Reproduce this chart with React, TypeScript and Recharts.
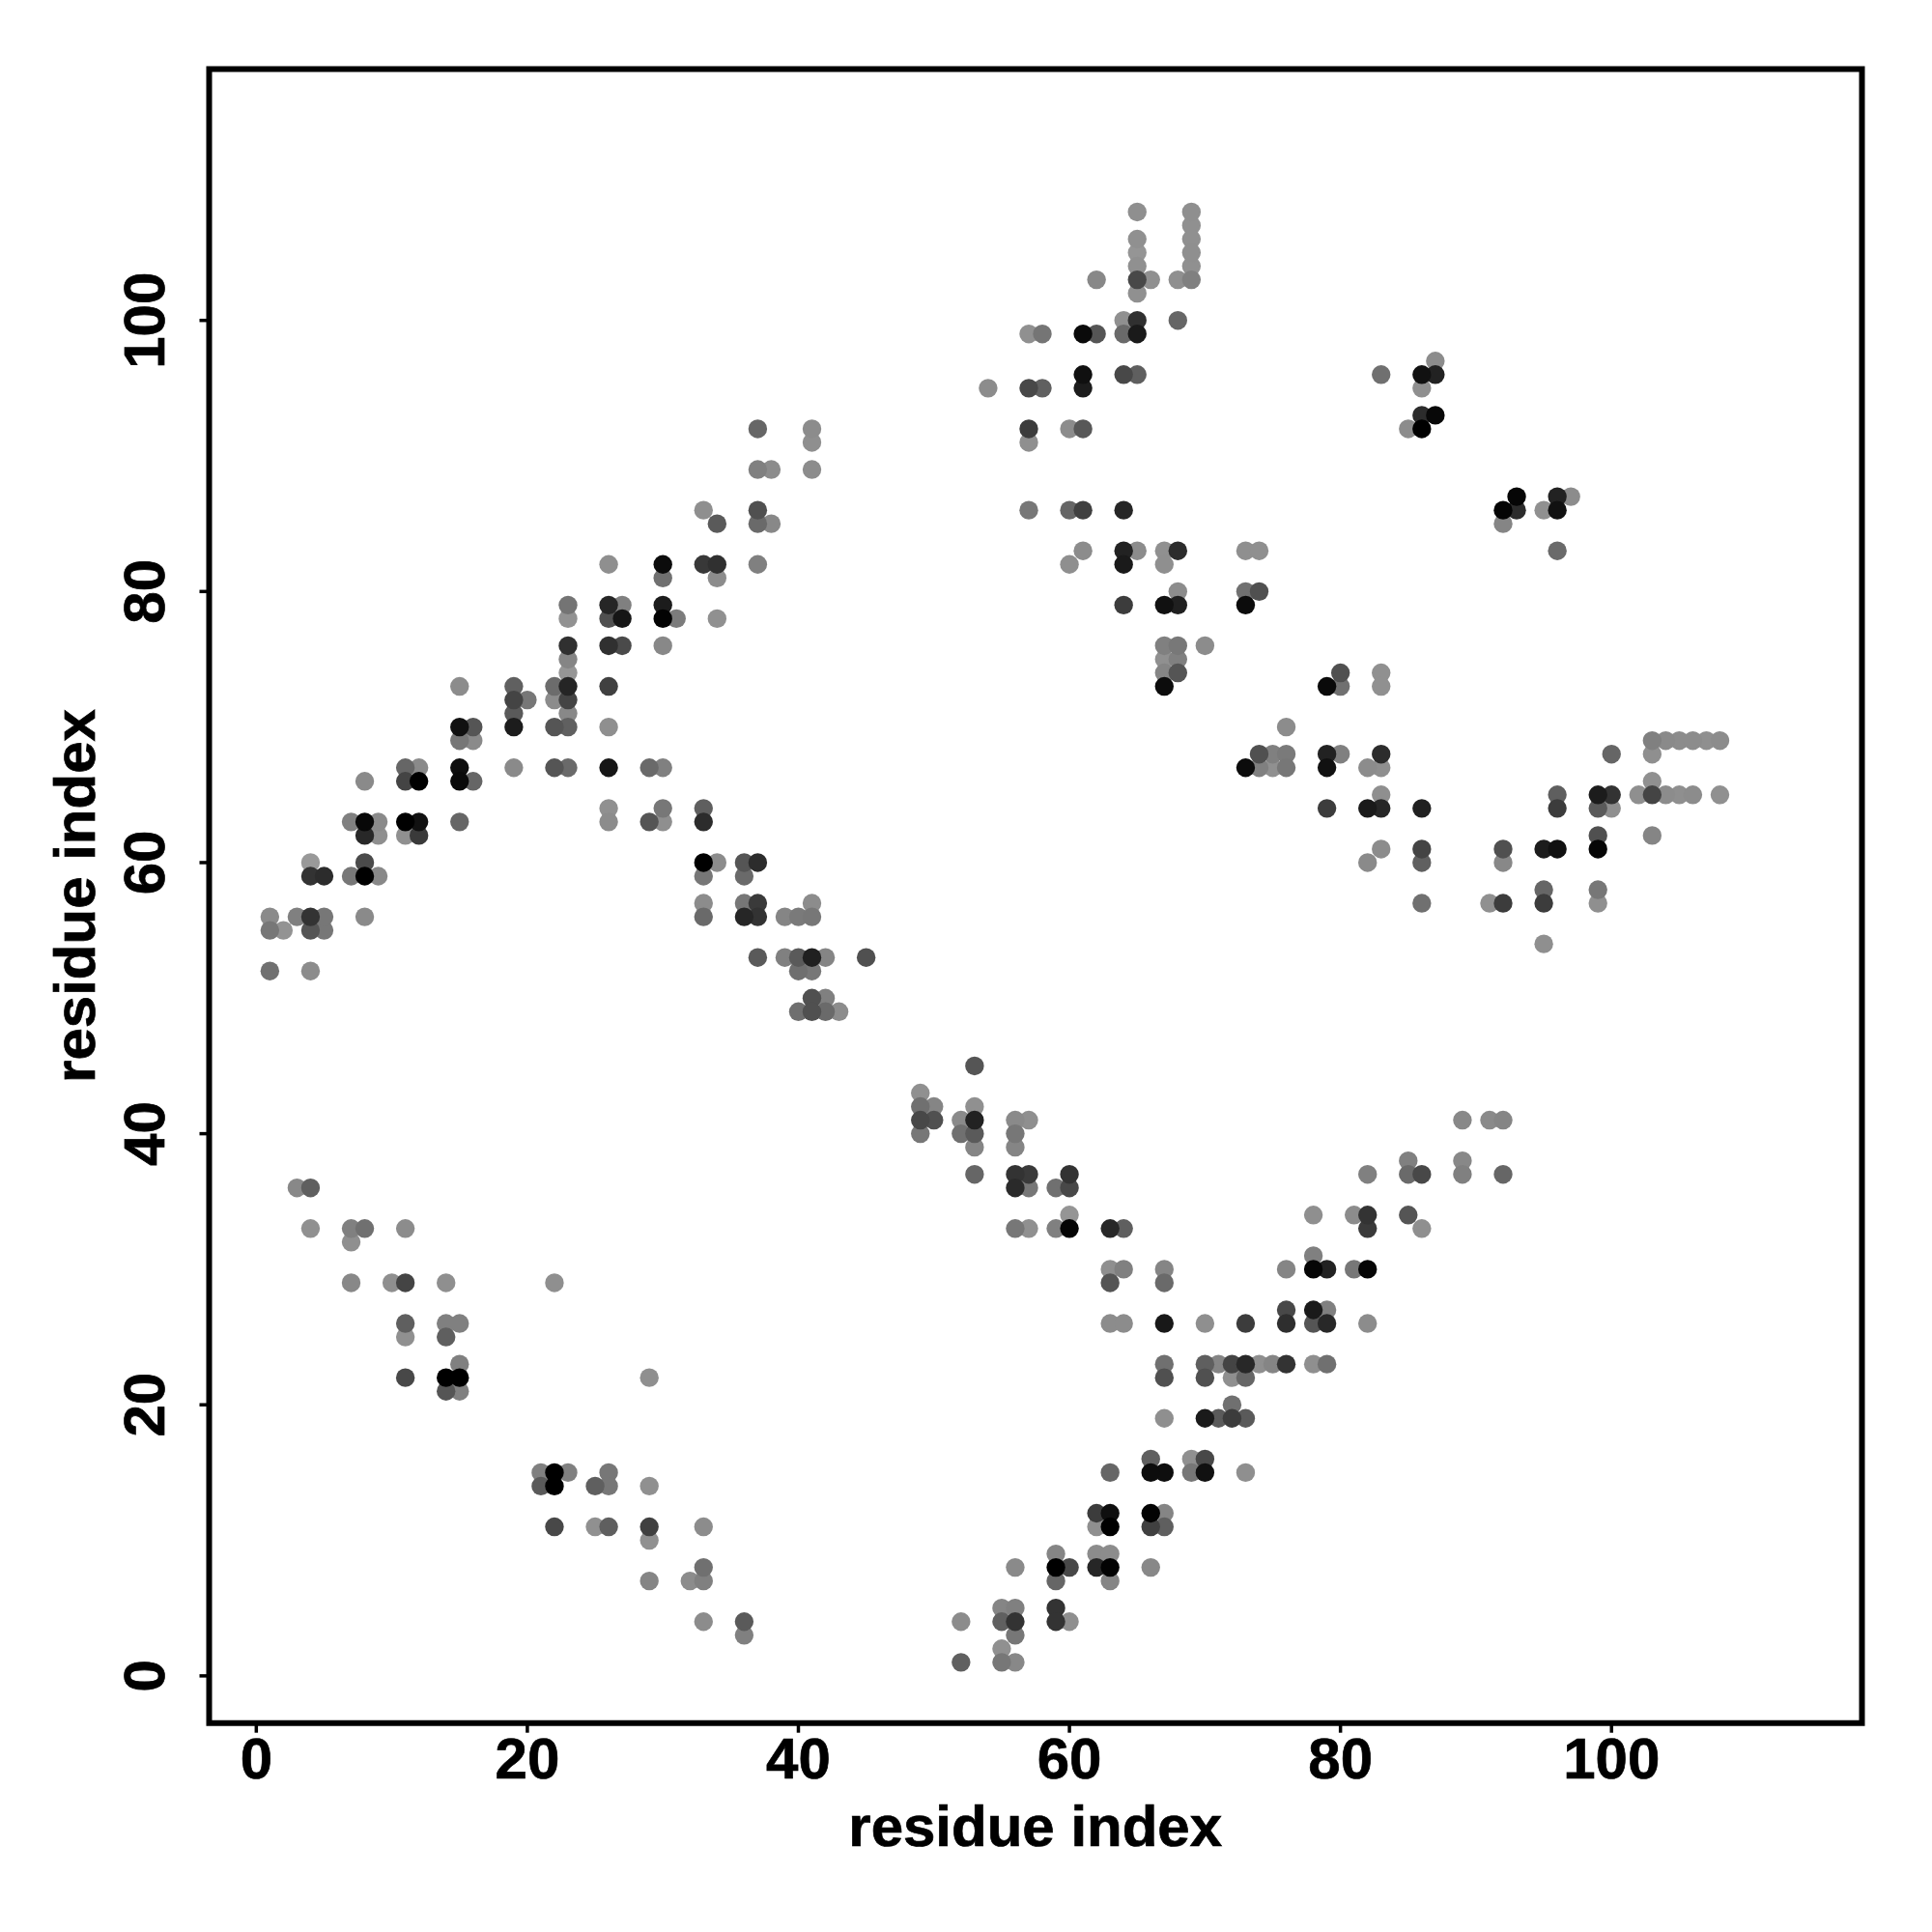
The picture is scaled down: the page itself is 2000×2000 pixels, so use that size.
import React from 'react';
import { ScatterChart, Scatter, XAxis, YAxis, ReferenceArea, Label } from 'recharts';

// Every contact: [residue x, residue y, grey level]
type Contact = [number, number, number];

const helixLeftLow: Contact[] = [
  [1,52,0x70],[4,52,0x8c],[1,55,0x77],[2,55,0x93],[4,55,0x55],[5,55,0x77],[1,56,0x8a],[3,56,0x80],[4,56,0x33],[5,56,0x77],
  [4,59,0x33],[5,59,0x2c],[7,59,0x77],[8,59,0x00],[9,59,0x88],[4,60,0x99],[8,60,0x4a],[8,56,0x8a],
  [8,62,0x28],[9,62,0x8f],[11,62,0x90],[12,62,0x3a],[7,63,0x80],[8,63,0x08],[9,63,0x8a],[11,63,0x00],[12,63,0x11],[15,63,0x66],
  [8,66,0x8a],[11,66,0x44],[12,66,0x00],[15,66,0x0a],[16,66,0x66],[11,67,0x66],[12,67,0x8a],[15,67,0x0e],[19,67,0x8a],[22,67,0x55],[23,67,0x6a],[26,67,0x16],[29,67,0x6a],[30,67,0x80],
];
const helixLeftHigh: Contact[] = [
  [15,69,0x77],[16,69,0x8a],[15,70,0x11],[16,70,0x55],[19,70,0x1c],[22,70,0x55],[23,70,0x60],[26,70,0x8f],[19,71,0x5a],[23,71,0x88],
  [19,72,0x44],[20,72,0x77],[22,72,0x8c],[23,72,0x44],[15,73,0x8c],[19,73,0x60],[22,73,0x6c],[23,73,0x25],[26,73,0x40],[23,74,0x96],[23,75,0x85],
  [23,76,0x30],[26,76,0x30],[27,76,0x4a],[30,76,0x88],[23,78,0x92],[26,78,0x50],[27,78,0x16],[30,78,0x03],[31,78,0x7c],[23,79,0x74],[26,79,0x26],[27,79,0x80],[30,79,0x1c],
  [30,81,0x70],[26,82,0x8f],[30,82,0x0c],[33,82,0x38],[34,82,0x30],[37,82,0x80],[34,81,0x8c],[34,78,0x90],
  [33,86,0x8f],[37,86,0x50],[34,85,0x5a],[37,85,0x6a],[38,85,0x88],[37,89,0x80],[38,89,0x8c],[41,89,0x8c],[37,92,0x66],[41,92,0x8c],[41,91,0x8f],
];
const strandLeftMid: Contact[] = [
  [26,64,0x90],[30,64,0x77],[33,64,0x5f],[26,63,0x8c],[29,63,0x55],[30,63,0x8f],[33,63,0x2c],
  [33,60,0x00],[34,60,0x8c],[36,60,0x55],[37,60,0x2c],[33,59,0x77],[36,59,0x6a],
  [33,57,0x8c],[36,57,0x77],[37,57,0x3a],[41,57,0x8c],[33,56,0x6a],[36,56,0x26],[37,56,0x33],[39,56,0x85],[40,56,0x7a],[41,56,0x77],
  [37,53,0x5a],[39,53,0x80],[40,53,0x5a],[41,53,0x20],[42,53,0x85],[45,53,0x50],[40,52,0x6f],[41,52,0x77],
  [41,50,0x50],[42,50,0x80],[40,49,0x6f],[41,49,0x50],[42,49,0x6a],[43,49,0x8c],
];
const sheetTop: Contact[] = [
  [65,108,0x8f],[69,108,0x8f],[69,107,0x90],[65,106,0x90],[69,106,0x90],[65,105,0x95],[69,105,0x8f],[65,104,0x90],[69,104,0x90],
  [62,103,0x88],[65,103,0x48],[66,103,0x90],[68,103,0x8f],[69,103,0x80],[65,102,0x90],[64,100,0x90],[65,100,0x30],[68,100,0x66],
  [57,99,0x90],[58,99,0x75],[61,99,0x0a],[62,99,0x55],[64,99,0x6a],[65,99,0x1a],[61,96,0x10],[64,96,0x48],[65,96,0x5f],
  [54,95,0x8c],[57,95,0x48],[58,95,0x60],[61,95,0x1c],[57,92,0x3c],[60,92,0x8c],[61,92,0x58],[57,91,0x8f],
  [57,86,0x77],[60,86,0x66],[61,86,0x40],[64,86,0x26],[61,83,0x8c],[64,83,0x22],[65,83,0x8c],[67,83,0x90],[68,83,0x2c],
  [60,82,0x8f],[64,82,0x1a],[67,82,0x8f],[68,80,0x8c],[64,79,0x3c],[67,79,0x11],[68,79,0x20],
  [67,76,0x80],[68,76,0x78],[70,76,0x8c],[67,75,0x90],[68,75,0x80],[67,74,0x85],[68,74,0x55],[67,73,0x0c],
];
const clusterRight: Contact[] = [
  [87,97,0x8c],[83,96,0x70],[86,96,0x11],[87,96,0x22],[86,95,0x8f],[86,93,0x2c],[87,93,0x08],[85,92,0x8c],[86,92,0x00],
  [93,87,0x06],[96,87,0x22],[97,87,0x8c],[92,86,0x04],[93,86,0x2c],[95,86,0x90],[96,86,0x11],[92,85,0x85],[96,83,0x6a],
  [73,83,0x8f],[74,83,0x8f],[73,80,0x70],[74,80,0x50],[73,79,0x0c],
  [80,74,0x50],[83,74,0x90],[79,73,0x0a],[80,73,0x70],[83,73,0x90],[76,70,0x8c],
];
const bandRight: Contact[] = [
  [103,69,0x80],[104,69,0x8a],[105,69,0x8c],[106,69,0x8c],[107,69,0x8f],[108,69,0x8c],
  [74,68,0x50],[75,68,0x80],[76,68,0x7a],[79,68,0x22],[80,68,0x80],[83,68,0x2c],[100,68,0x66],[103,68,0x8f],
  [73,67,0x0c],[74,67,0x80],[75,67,0x90],[76,67,0x77],[79,67,0x11],[82,67,0x8c],[83,67,0x8f],[103,66,0x90],
  [83,65,0x8f],[96,65,0x5f],[99,65,0x1c],[100,65,0x33],[102,65,0x8f],[103,65,0x44],[104,65,0x8c],[105,65,0x8f],[106,65,0x8c],[108,65,0x90],
  [79,64,0x3c],[82,64,0x1a],[83,64,0x26],[86,64,0x20],[96,64,0x3c],[99,64,0x5a],[100,64,0x8f],[99,62,0x50],[103,62,0x85],
  [83,61,0x8c],[86,61,0x44],[92,61,0x50],[95,61,0x1c],[96,61,0x11],[99,61,0x06],[82,60,0x8a],[86,60,0x60],[92,60,0x88],
  [95,58,0x66],[99,58,0x77],[86,57,0x70],[91,57,0x90],[92,57,0x3c],[95,57,0x3c],[99,57,0x8f],[95,54,0x8f],
];
const centerDescent: Contact[] = [
  [53,45,0x55],[49,43,0x90],[49,42,0x70],[50,42,0x85],[53,42,0x90],[49,41,0x48],[50,41,0x50],[52,41,0x8a],[53,41,0x22],[56,41,0x8a],[57,41,0x8f],
  [49,40,0x77],[52,40,0x70],[53,40,0x5a],[56,40,0x77],[53,39,0x85],[56,39,0x85],[53,37,0x66],[56,37,0x33],[57,37,0x3a],[60,37,0x33],
  [56,36,0x2a],[57,36,0x77],[59,36,0x70],[60,36,0x48],[60,34,0x95],[56,33,0x77],[57,33,0x90],[59,33,0x80],[60,33,0x04],[63,33,0x28],[64,33,0x5f],
  [63,30,0x8f],[64,30,0x80],[67,30,0x85],[63,29,0x55],[67,29,0x6a],[63,26,0x8c],[64,26,0x8c],[67,26,0x18],[70,26,0x8f],[73,26,0x3c],
  [67,23,0x70],[70,23,0x5f],[71,23,0x85],[72,23,0x44],[73,23,0x28],[74,23,0x8f],[75,23,0x85],[67,22,0x50],[70,22,0x50],[72,22,0x8f],[73,22,0x66],
  [72,20,0x70],[67,19,0x8f],[70,19,0x1a],[71,19,0x5a],[72,19,0x3c],[73,19,0x5a],
];
const bottomRise: Contact[] = [
  [66,16,0x5f],[69,16,0x90],[70,16,0x48],[63,15,0x66],[66,15,0x0c],[67,15,0x0e],[69,15,0x77],[70,15,0x11],[73,15,0x8f],
  [62,12,0x3c],[63,12,0x0f],[66,12,0x03],[67,12,0x85],[62,11,0x8f],[63,11,0x00],[66,11,0x40],[67,11,0x5f],
  [59,9,0x85],[62,9,0x8c],[63,9,0x8c],[56,8,0x8a],[59,8,0x00],[60,8,0x48],[62,8,0x26],[63,8,0x03],[66,8,0x88],[59,7,0x66],[63,7,0x85],
  [55,5,0x85],[56,5,0x80],[59,5,0x33],[52,4,0x8c],[55,4,0x60],[56,4,0x33],[59,4,0x33],[60,4,0x8f],[56,3,0x77],[55,2,0x90],[52,1,0x60],[55,1,0x77],[56,1,0x88],
];
const upperRise: Contact[] = [
  [89,41,0x88],[91,41,0x8a],[92,41,0x85],[85,38,0x80],[89,38,0x88],[82,37,0x80],[85,37,0x6a],[86,37,0x48],[89,37,0x80],[92,37,0x66],
  [78,34,0x8f],[81,34,0x8c],[82,34,0x33],[85,34,0x55],[82,33,0x3a],[86,33,0x8f],[78,31,0x80],
  [76,30,0x85],[78,30,0x06],[79,30,0x22],[81,30,0x77],[82,30,0x06],[76,27,0x48],[78,27,0x1a],[79,27,0x80],
  [76,26,0x2e],[78,26,0x55],[79,26,0x28],[82,26,0x8c],[76,23,0x33],[78,23,0x8f],[79,23,0x70],
];
const lowerLeft: Contact[] = [
  [3,36,0x88],[4,36,0x5f],[4,33,0x90],[7,33,0x80],[8,33,0x70],[11,33,0x8c],[7,32,0x8f],
  [7,29,0x88],[10,29,0x8f],[11,29,0x44],[14,29,0x8f],[22,29,0x8f],[11,26,0x5f],[14,26,0x80],[15,26,0x80],[11,25,0x90],[14,25,0x5f],
  [15,23,0x80],[11,22,0x48],[14,22,0x00],[15,22,0x00],[29,22,0x8f],[14,21,0x55],[15,21,0x80],
  [21,15,0x80],[22,15,0x00],[23,15,0x80],[26,15,0x77],[21,14,0x5a],[22,14,0x00],[25,14,0x5f],[26,14,0x77],[29,14,0x90],
  [22,11,0x48],[25,11,0x90],[26,11,0x5f],[29,11,0x40],[33,11,0x8c],[29,10,0x90],[33,8,0x70],[29,7,0x85],[32,7,0x8c],[33,7,0x80],
  [33,4,0x8c],[36,4,0x5a],[36,3,0x80],
];

const tickValues = [0, 20, 40, 60, 80, 100];
const axisTitle = 'residue index';

const rows = [
  ...helixLeftLow, ...helixLeftHigh, ...strandLeftMid, ...sheetTop, ...clusterRight,
  ...bandRight, ...centerDescent, ...bottomRise, ...upperRise, ...lowerLeft,
]
  .map(([x, y, shade]) => ({ x, y, fill: `rgb(${shade},${shade},${shade})`, shade }))
  .sort((a, b) => b.shade - a.shade);

const FONT = '"Liberation Sans", Arial, sans-serif';
const LOW = -3.48;
const HIGH_X = 118.48;
const HIGH_Y = 118.55;
const TEXT_SIZE = 60;
const textProps = {
  fontSize: TEXT_SIZE,
  fontWeight: 'bold',
  fontFamily: FONT,
  fill: '#000',
  stroke: '#000',
  strokeWidth: 0.7,
  textAnchor: 'middle',
} as const;

const dot = (p: any) => <circle cx={p.cx} cy={p.cy} r={9.7} fill={p.payload.fill} />;

const xTick = (p: any) => (
  <text x={p.x} y={1841} {...textProps}>
    {p.payload.value}
  </text>
);
const yTick = (p: any) => (
  <text x={170} y={p.y} transform={`rotate(-90 170 ${p.y})`} {...textProps}>
    {p.payload.value}
  </text>
);

export default function App() {
  return (
    <div style={{ position: 'absolute', left: 0, top: 0, width: 2000, height: 2000, background: '#fff' }}>
      <ScatterChart
        width={2000}
        height={2000}
        margin={{ top: 71.4, right: 72.5, left: 16.5, bottom: 16.3 }}
      >
        <XAxis
          type="number"
          dataKey="x"
          domain={[LOW, HIGH_X]}
          ticks={tickValues}
          allowDataOverflow
          height={200}
          axisLine={false}
          tickSize={10}
          tickLine={{ stroke: '#000', strokeWidth: 3.5 }}
          tick={xTick}
          interval={0}
        >
          <Label
            content={() => (
              <text x={1071.7} y={1911} {...textProps}>
                {axisTitle}
              </text>
            )}
          />
        </XAxis>
        <YAxis
          type="number"
          dataKey="y"
          domain={[LOW, HIGH_Y]}
          ticks={tickValues}
          allowDataOverflow
          width={200}
          axisLine={false}
          tickSize={10}
          tickLine={{ stroke: '#000', strokeWidth: 3.5 }}
          tick={yTick}
          interval={0}
        >
          <Label
            content={() => (
              <text x={98} y={927.5} transform="rotate(-90 98 927.5)" {...textProps}>
                {axisTitle}
              </text>
            )}
          />
        </YAxis>
        <Scatter data={rows} shape={dot} isAnimationActive={false} />
        <ReferenceArea x1={LOW} x2={HIGH_X} y1={LOW} y2={HIGH_Y} fill="none" stroke="#000" strokeWidth={6} ifOverflow="extendDomain" />
      </ScatterChart>
    </div>
  );
}
